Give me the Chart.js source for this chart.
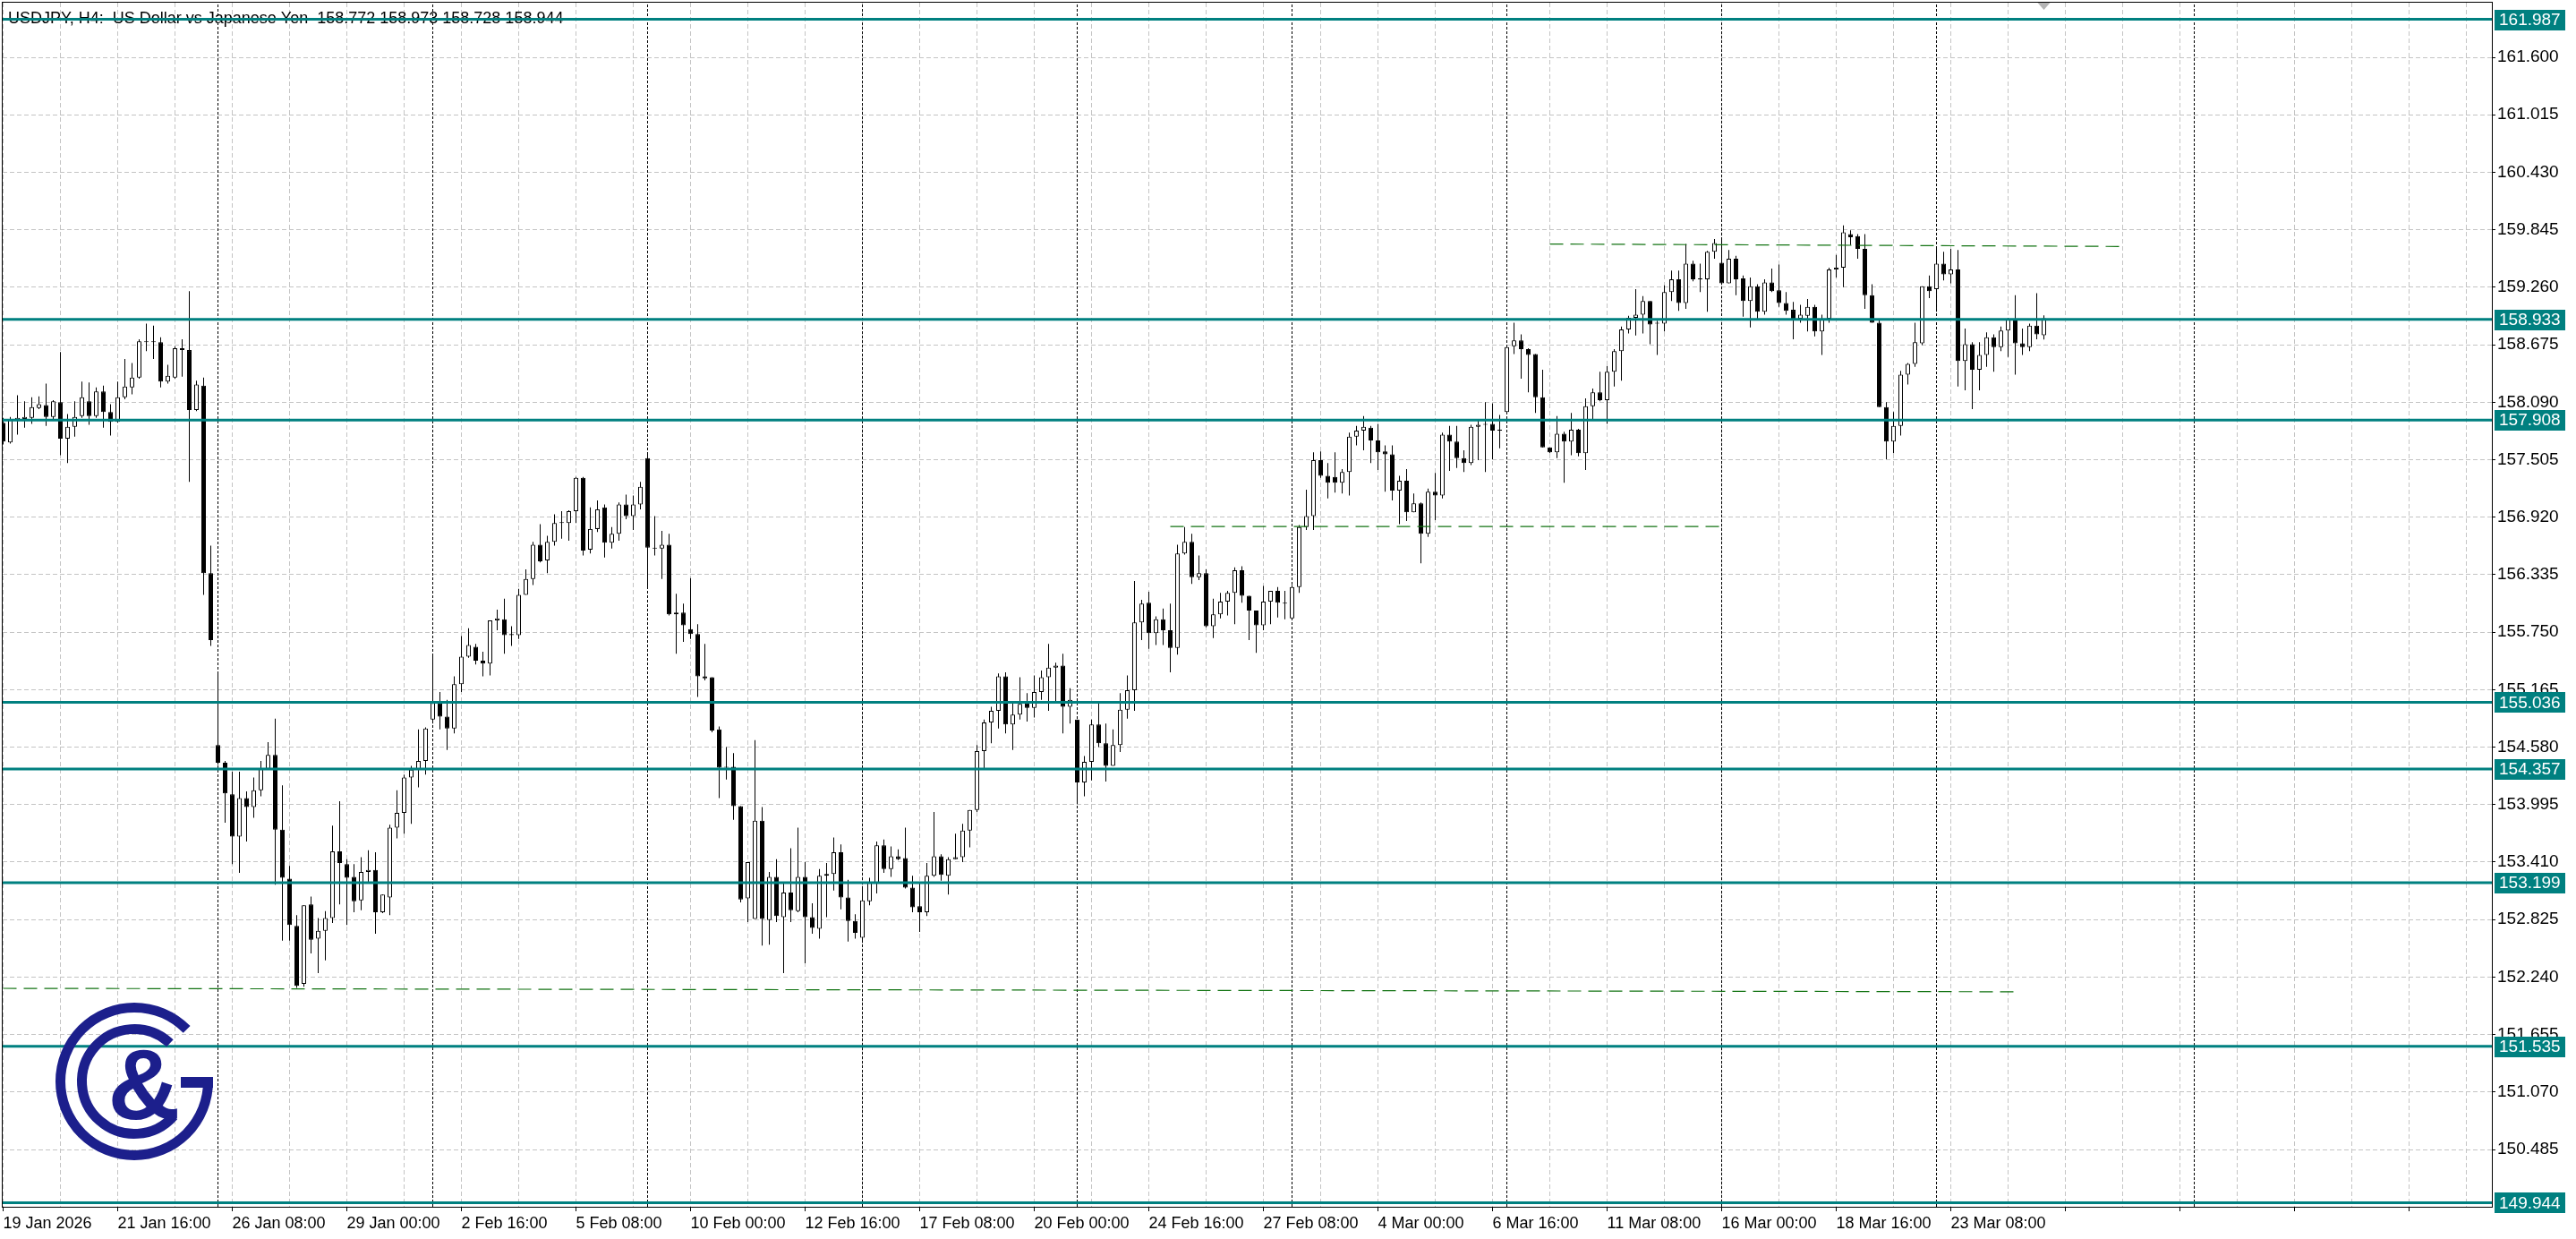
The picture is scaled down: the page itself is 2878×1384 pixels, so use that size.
<!DOCTYPE html>
<html>
<head>
<meta charset="utf-8">
<title>USDJPY, H4</title>
<script src="https://cdn.jsdelivr.net/npm/chart.js@4.4.1/dist/chart.umd.min.js"></script>
<style>
  html, body { margin: 0; padding: 0; background: #fff; }
  #wrap { position: relative; width: 2878px; height: 1384px; }
</style>
</head>
<body>
<div id="wrap"><canvas id="chart"></canvas></div>
<script>
// USDJPY H4 candles, bar 0 = 19 Jan 2026 00:00, 6 bars a day, Mon-Fri
const opens = [
  157.88,157.68,157.91,157.92,157.93,158.03,158.06,157.94,158.09,157.72,
  157.84,157.95,158.10,157.95,158.20,157.99,157.89,158.14,158.24,158.34,
  158.71,158.70,158.70,158.30,158.34,158.64,158.62,158.01,158.26,156.35,
  154.60,154.42,154.10,153.67,154.06,153.97,154.14,154.36,154.50,153.74,
  153.24,152.76,152.17,152.98,152.63,152.71,152.84,153.52,153.39,153.26,
  153.02,153.31,153.33,152.90,153.05,153.76,153.91,154.27,154.35,154.44,
  154.86,155.03,154.89,154.77,155.22,155.50,155.60,155.46,155.43,155.87,
  155.88,155.72,155.72,156.13,156.29,156.64,156.48,156.67,156.86,156.86,
  156.98,157.32,156.59,156.80,157.02,156.66,156.75,157.05,156.93,157.05,
  157.52,156.61,156.60,156.64,155.93,155.95,155.78,155.73,155.30,155.29,
  154.76,154.38,154.38,153.98,153.04,152.83,153.83,152.82,153.26,152.85,
  153.10,152.91,153.26,152.85,152.73,153.27,153.29,153.51,153.05,152.81,
  152.64,153.01,153.19,153.58,153.34,153.47,153.45,153.15,152.96,152.90,
  153.27,153.47,153.27,153.44,153.46,153.73,153.94,154.54,154.83,154.95,
  155.30,154.81,154.91,155.03,154.98,155.14,155.29,155.39,155.41,154.99,
  154.86,154.22,154.43,154.81,154.62,154.39,154.60,154.96,155.16,155.85,
  156.05,155.74,155.88,155.77,155.59,156.55,156.67,156.31,156.35,155.81,
  155.93,156.06,156.15,156.38,156.12,155.97,155.82,156.06,156.17,156.05,
  155.89,156.21,156.82,156.93,157.50,157.34,157.33,157.27,157.38,157.74,
  157.80,157.83,157.70,157.59,157.56,157.19,157.29,156.97,157.06,156.75,
  157.18,157.14,157.76,157.69,157.52,157.47,157.84,157.86,157.87,157.80,
  157.99,158.66,158.72,158.63,158.58,158.14,157.63,157.58,157.77,157.69,
  157.81,157.57,158.05,158.19,158.11,158.40,158.61,158.83,158.95,158.98,
  159.12,158.89,158.89,159.21,159.34,159.10,159.50,159.34,159.34,159.62,
  159.51,159.30,159.55,159.35,159.12,159.27,159.01,159.31,159.23,159.10,
  159.03,158.94,158.97,159.06,158.81,158.94,159.44,159.46,159.80,159.78,
  159.65,159.18,158.90,158.04,157.69,157.85,158.37,158.48,158.69,159.27,
  159.24,159.50,159.39,159.44,158.51,158.68,158.42,158.57,158.75,158.65,
  158.82,158.93,158.69,158.65,158.87,158.772
];
const highs = [
  157.93,157.94,158.16,158.10,158.14,158.15,158.28,158.11,158.60,157.97,
  158.10,158.30,158.29,158.24,158.26,158.07,158.30,158.53,158.49,158.73,
  158.89,158.87,158.75,158.47,158.66,158.73,159.22,158.31,158.34,156.63,
  155.33,154.44,154.33,154.33,154.13,154.27,154.44,154.63,154.87,154.19,
  153.37,152.87,152.97,153.06,152.84,152.91,153.78,154.03,153.44,153.39,
  153.46,153.53,153.51,153.08,153.79,154.14,154.30,154.39,154.76,154.78,
  155.52,155.14,155.06,155.30,155.71,155.79,155.63,155.55,155.87,155.98,
  156.09,155.81,156.19,156.39,156.67,156.85,156.73,156.95,156.98,156.99,
  157.33,157.33,157.02,157.09,157.05,156.82,157.07,157.15,157.14,157.28,
  157.58,156.93,156.78,156.75,156.14,156.04,156.30,155.83,155.63,155.29,
  154.79,154.58,154.52,153.98,153.41,154.65,153.97,153.31,153.44,153.19,
  153.55,153.76,153.41,152.99,153.34,153.40,153.66,153.59,153.23,152.88,
  153.16,153.25,153.62,153.64,153.57,153.54,153.76,153.27,153.19,153.40,
  153.92,153.49,153.46,153.70,153.80,153.94,154.60,154.86,154.99,155.33,
  155.34,155.03,155.29,155.13,155.31,155.36,155.63,155.44,155.53,155.18,
  154.86,154.49,154.86,155.03,154.82,154.76,155.13,155.31,156.27,156.08,
  156.16,155.91,155.99,156.04,156.64,156.82,156.75,156.53,156.39,156.09,
  156.15,156.17,156.41,156.42,156.12,155.97,156.22,156.17,156.21,156.17,
  156.23,156.84,157.20,157.58,157.59,157.47,157.58,157.41,157.78,157.85,
  157.95,157.85,157.87,157.65,157.65,157.34,157.41,157.16,157.07,157.21,
  157.37,157.78,157.85,157.85,157.60,157.86,157.92,158.09,158.08,157.96,
  158.65,158.90,158.78,158.64,158.58,158.42,157.63,157.95,157.79,157.98,
  157.82,158.13,158.23,158.40,158.46,158.63,158.86,158.97,159.24,159.17,
  159.12,158.92,159.28,159.43,159.43,159.70,159.53,159.50,159.63,159.75,
  159.77,159.64,159.58,159.38,159.36,159.29,159.34,159.45,159.49,159.21,
  159.11,159.08,159.14,159.08,158.98,159.46,159.59,159.89,159.84,159.80,
  159.80,159.29,158.93,158.09,157.99,158.41,158.49,158.90,159.27,159.38,
  159.65,159.62,159.65,159.64,158.84,158.70,158.70,158.80,158.78,158.86,
  158.95,159.18,158.84,158.89,159.20,158.973
];
const lows = [
  157.66,157.67,157.76,157.83,157.87,158.02,157.85,157.92,157.55,157.47,
  157.74,157.93,157.86,157.93,157.83,157.75,157.88,158.12,158.17,158.33,
  158.61,158.53,158.24,158.28,158.33,158.35,157.28,158.00,156.13,155.61,
  154.40,153.81,153.39,153.30,153.62,153.86,154.08,154.35,153.18,152.61,
  152.61,152.13,152.14,152.48,152.28,152.41,152.79,152.98,152.77,152.90,
  152.92,153.20,152.68,152.89,152.87,153.65,153.70,153.80,154.17,154.30,
  154.82,154.76,154.55,154.72,155.14,155.49,155.42,155.30,155.31,155.77,
  155.53,155.61,155.68,156.13,156.23,156.46,156.35,156.63,156.70,156.68,
  156.86,156.53,156.55,156.77,156.51,156.60,156.68,156.90,156.79,157.00,
  156.20,156.53,156.29,155.92,155.53,155.65,155.68,155.09,155.26,154.73,
  154.06,154.25,153.84,153.00,152.80,152.83,152.56,152.57,152.80,152.28,
  152.80,152.90,152.38,152.68,152.63,152.85,153.12,152.93,152.60,152.63,
  152.59,152.97,153.09,153.30,153.26,153.43,153.14,152.90,152.70,152.86,
  153.26,153.22,153.08,153.44,153.41,153.56,153.92,154.36,154.62,154.77,
  154.72,154.55,154.86,154.84,154.88,155.06,154.95,155.04,154.72,154.82,
  154.00,154.08,154.24,154.58,154.23,154.39,154.53,154.87,154.95,155.67,
  155.58,155.62,155.62,155.34,155.52,156.54,156.24,156.28,155.80,155.69,
  155.89,155.92,155.83,156.05,155.67,155.54,155.77,155.83,155.90,155.88,
  155.88,156.15,156.79,156.79,157.32,157.11,157.17,157.16,157.14,157.65,
  157.60,157.47,157.40,157.18,157.09,156.85,156.88,156.97,156.45,156.72,
  156.89,157.11,157.39,157.42,157.38,157.45,157.50,157.38,157.51,157.62,
  157.99,158.58,158.33,158.19,157.98,157.63,157.57,157.52,157.27,157.55,
  157.54,157.40,157.91,158.10,157.87,158.25,158.31,158.79,158.77,158.79,
  158.68,158.57,158.81,159.12,159.02,159.04,159.32,159.21,159.01,159.55,
  159.30,159.30,159.18,158.96,158.85,158.93,158.98,159.21,159.06,158.98,
  158.73,158.90,158.81,158.76,158.57,158.90,159.36,159.26,159.69,159.55,
  159.04,158.90,158.04,157.51,157.57,157.75,158.27,158.45,158.67,159.15,
  159.01,159.33,159.30,158.25,158.21,158.02,158.21,158.45,158.40,158.61,
  158.55,158.37,158.57,158.61,158.73,158.728
];
const closes = [
  157.69,157.91,157.93,157.94,158.04,158.07,157.94,158.10,157.72,157.84,
  157.94,158.14,157.95,158.20,157.99,157.89,158.14,158.25,158.34,158.71,
  158.70,158.71,158.30,158.36,158.64,158.62,158.01,158.27,156.35,155.67,
  154.42,154.11,153.67,154.06,153.97,154.14,154.36,154.50,153.74,153.25,
  152.77,152.15,152.97,152.62,152.71,152.84,153.52,153.40,153.25,153.01,
  153.31,153.33,152.90,153.08,153.76,153.91,154.27,154.35,154.44,154.77,
  155.03,154.89,154.77,155.22,155.50,155.62,155.46,155.43,155.87,155.89,
  155.72,155.73,156.13,156.29,156.64,156.47,156.67,156.86,156.87,156.98,
  157.32,156.58,156.80,157.00,156.66,156.75,157.05,156.93,157.05,157.23,
  156.61,156.60,156.64,155.93,155.95,155.82,155.73,155.30,155.28,154.75,
  154.37,154.37,153.98,153.03,153.41,153.83,152.83,153.26,152.86,153.10,
  152.92,153.26,152.85,152.74,153.27,153.29,153.51,153.05,152.81,152.69,
  153.02,153.20,153.58,153.34,153.47,153.44,153.15,152.95,152.90,153.27,
  153.47,153.28,153.44,153.46,153.73,153.94,154.54,154.83,154.95,155.30,
  154.81,154.91,155.02,154.98,155.14,155.29,155.39,155.41,154.99,155.06,
  154.22,154.43,154.81,154.62,154.39,154.60,154.96,155.16,155.85,156.04,
  155.74,155.88,155.77,155.59,156.55,156.67,156.31,156.35,155.81,155.93,
  156.06,156.15,156.38,156.12,155.97,155.82,156.06,156.17,156.05,156.04,
  156.21,156.82,156.93,157.50,157.34,157.27,157.27,157.38,157.74,157.80,
  157.84,157.70,157.58,157.56,157.19,157.29,156.97,157.06,156.75,157.18,
  157.14,157.76,157.69,157.52,157.47,157.84,157.86,157.87,157.80,157.81,
  158.65,158.72,158.63,158.57,158.14,157.63,157.58,157.77,157.69,157.81,
  157.57,158.05,158.19,158.11,158.40,158.61,158.83,158.95,158.98,159.12,
  158.88,158.90,159.21,159.34,159.10,159.50,159.34,159.35,159.62,159.71,
  159.30,159.55,159.34,159.12,159.27,159.01,159.31,159.22,159.10,159.02,
  158.94,158.98,159.06,158.81,158.94,159.44,159.46,159.82,159.77,159.65,
  159.18,158.90,158.04,157.69,157.85,158.37,158.48,158.70,159.27,159.22,
  159.50,159.39,159.44,158.51,158.68,158.42,158.57,158.75,158.65,158.82,
  158.94,158.69,158.65,158.87,158.78,158.944
];

// time labels, one every 16 bars
const xLabels = [
  '19 Jan 2026', '21 Jan 16:00', '26 Jan 08:00', '29 Jan 00:00', '2 Feb 16:00', '5 Feb 08:00',
  '10 Feb 00:00', '12 Feb 16:00', '17 Feb 08:00', '20 Feb 00:00', '24 Feb 16:00', '27 Feb 08:00',
  '4 Mar 00:00', '6 Mar 16:00', '11 Mar 08:00', '16 Mar 00:00', '18 Mar 16:00', '23 Mar 08:00'
];
const yTicks = [
  161.600, 161.015, 160.430, 159.845, 159.260, 158.675, 158.090, 157.505, 156.920, 156.335,
  155.750, 155.165, 154.580, 153.995, 153.410, 152.825, 152.240, 151.655, 151.070, 150.485
];
// horizontal levels (teal) and the three dashed green lines
const levels = [161.987, 158.933, 157.908, 155.036, 154.357, 153.199, 151.535, 149.944];
const dashTopX = [216, 296], dashTopY = [159.700, 159.675];
const dashMidX = [163, 240], dashMidY = [156.825, 156.825];
const dashLowX = [0, 281], dashLowY = [152.125, 152.090];
// weekly separators (Monday 00:00 bar index)
const separators = [30, 60, 90, 120, 150, 180, 210, 240, 270, 306];

const title = 'USDJPY, H4:  US Dollar vs Japanese Yen  158.772 158.973 158.728 158.944';
const xMin = -0.0625, xMax = 347.56;
const yMin = 149.902, yMax = 162.156;
const TEAL = '#008080', GREEN = '#127312', GRID = '#c4c4c4';
const font = '"Liberation Sans", Arial, sans-serif';

const bodyData = opens.map((o, i) => ({ x: i, y: [o, closes[i]] }));
const wickData = opens.map((o, i) => ({ x: i, y: [lows[i], highs[i]] }));
const bodyColors = opens.map((o, i) => closes[i] >= o ? '#ffffff' : '#000000');

const sepPoints = [];
separators.forEach(s => sepPoints.push({ x: s, y: yMin }, { x: s, y: yMax }, { x: s, y: null }));

const gridBars = [];
for (let b = 0; b <= 344; b += 8) gridBars.push(b);

const lineDs = (pts, color, width, dash, order) => ({
  type: 'line', data: pts, borderColor: color, borderWidth: width, borderDash: dash,
  pointRadius: 0, fill: false, tension: 0, spanGaps: false, order
});

const datasets = [
  { type: 'bar', data: bodyData, backgroundColor: bodyColors, borderColor: '#000', borderWidth: 1,
    borderSkipped: false, barThickness: 5, grouped: false, inflateAmount: 0, order: 3 },
  { type: 'bar', data: wickData, backgroundColor: '#000', borderWidth: 0,
    borderSkipped: false, barThickness: 1, grouped: false, inflateAmount: 0, order: 4 },
  lineDs(sepPoints, '#000', 1, [3, 2], 5),
  lineDs(dashTopX.map((x, i) => ({ x, y: dashTopY[i] })), GREEN, 1.2, [15, 8], 2),
  lineDs(dashMidX.map((x, i) => ({ x, y: dashMidY[i] })), GREEN, 1.2, [15, 8], 2),
  lineDs(dashLowX.map((x, i) => ({ x, y: dashLowY[i] })), GREEN, 1.2, [15, 8], 2),
  ...levels.map(v => lineDs([{ x: xMin, y: v }, { x: xMax, y: v }], TEAL, 3, [], 1))
];

function drawLogo(ctx, cx, cy) {
  ctx.save();
  ctx.strokeStyle = ctx.fillStyle = '#1c1f8c';
  ctx.lineWidth = 11;
  ctx.beginPath(); ctx.arc(cx, cy, 82.5, 0, Math.PI * 2 - 0.78); ctx.stroke();
  ctx.fillRect(cx + 52, cy - 5, 36, 12);
  ctx.beginPath(); ctx.arc(cx, cy, 58.5, 0.72, Math.PI * 2 - 0.82); ctx.stroke();
  ctx.font = 'bold 112px ' + font;
  ctx.textAlign = 'center';
  ctx.textBaseline = 'alphabetic';
  ctx.fillText('&', cx + 11, cy + 42);
  ctx.restore();
}

const overlay = {
  id: 'mtOverlay',
  beforeDatasetsDraw(chart) {
    const { ctx, chartArea: a } = chart;
    ctx.save();
    ctx.font = '18px ' + font;
    ctx.fillStyle = '#000';
    ctx.textBaseline = 'middle';
    ctx.fillText(title, a.left + 6, 21);
    ctx.restore();
  },
  afterDatasetsDraw(chart) {
    drawLogo(chart.ctx, 150, 1208);
  },
  afterDraw(chart) {
    const { ctx, chartArea: a, scales: { x, y } } = chart;
    ctx.save();
    ctx.strokeStyle = '#000';
    ctx.lineWidth = 1;
    ctx.strokeRect(a.left - 0.5, a.top - 0.5, a.right - a.left + 1, a.bottom - a.top + 1);
    // level price tags on the right scale
    ctx.font = '19px ' + font;
    ctx.textBaseline = 'middle';
    levels.forEach(v => {
      const py = y.getPixelForValue(v);
      ctx.fillStyle = TEAL;
      ctx.fillRect(a.right + 3, Math.round(py) - 11, 79, 23);
      ctx.fillStyle = '#fff';
      ctx.fillText(v.toFixed(3), a.right + 8, py + 1);
    });
    // chart shift marker
    const sx = x.getPixelForValue(285);
    ctx.fillStyle = '#b4b4b4';
    ctx.beginPath();
    ctx.moveTo(sx - 7, a.top); ctx.lineTo(sx + 7, a.top); ctx.lineTo(sx, a.top + 8);
    ctx.closePath(); ctx.fill();
    ctx.restore();
  }
};

new Chart(document.getElementById('chart'), {
  type: 'bar',
  data: { datasets },
  plugins: [overlay],
  options: {
    responsive: true, maintainAspectRatio: false, animation: false, events: [],
    layout: { padding: { left: 3, top: 3, right: 0, bottom: 0 } },
    plugins: { legend: { display: false }, tooltip: { enabled: false } },
    scales: {
      x: {
        type: 'linear', min: xMin, max: xMax, offset: false,
        afterBuildTicks: s => { s.ticks = gridBars.map(v => ({ value: v })); },
        afterFit: s => { s.height = 36; s.paddingLeft = 0; s.paddingRight = 0; },
        grid: {
          offset: false, color: GRID, lineWidth: 1, tickLength: 5,
          tickColor: c => (c.tick && c.tick.value % 16 === 0) ? '#000' : 'rgba(0,0,0,0)'
        },
        border: { display: true, color: '#000', width: 1, dash: [5, 3] },
        ticks: {
          autoSkip: false, maxRotation: 0, minRotation: 0, align: 'start', padding: 3,
          color: '#000', font: { family: font, size: 18 },
          callback: v => (v % 16 === 0 && xLabels[v / 16]) || ''
        }
      },
      y: {
        type: 'linear', position: 'right', min: yMin, max: yMax, beginAtZero: false,
        afterBuildTicks: s => { s.ticks = yTicks.map(v => ({ value: v })); },
        afterFit: s => { s.width = 94; s.paddingTop = 0; s.paddingBottom = 0; },
        grid: { color: GRID, lineWidth: 1, tickLength: 4, tickColor: '#000' },
        border: { display: true, color: '#000', width: 1, dash: [5, 3] },
        ticks: {
          autoSkip: false, padding: 2, color: '#000', font: { family: font, size: 19 },
          callback: v => v.toFixed(3)
        }
      }
    }
  }
});
</script>
</body>
</html>
